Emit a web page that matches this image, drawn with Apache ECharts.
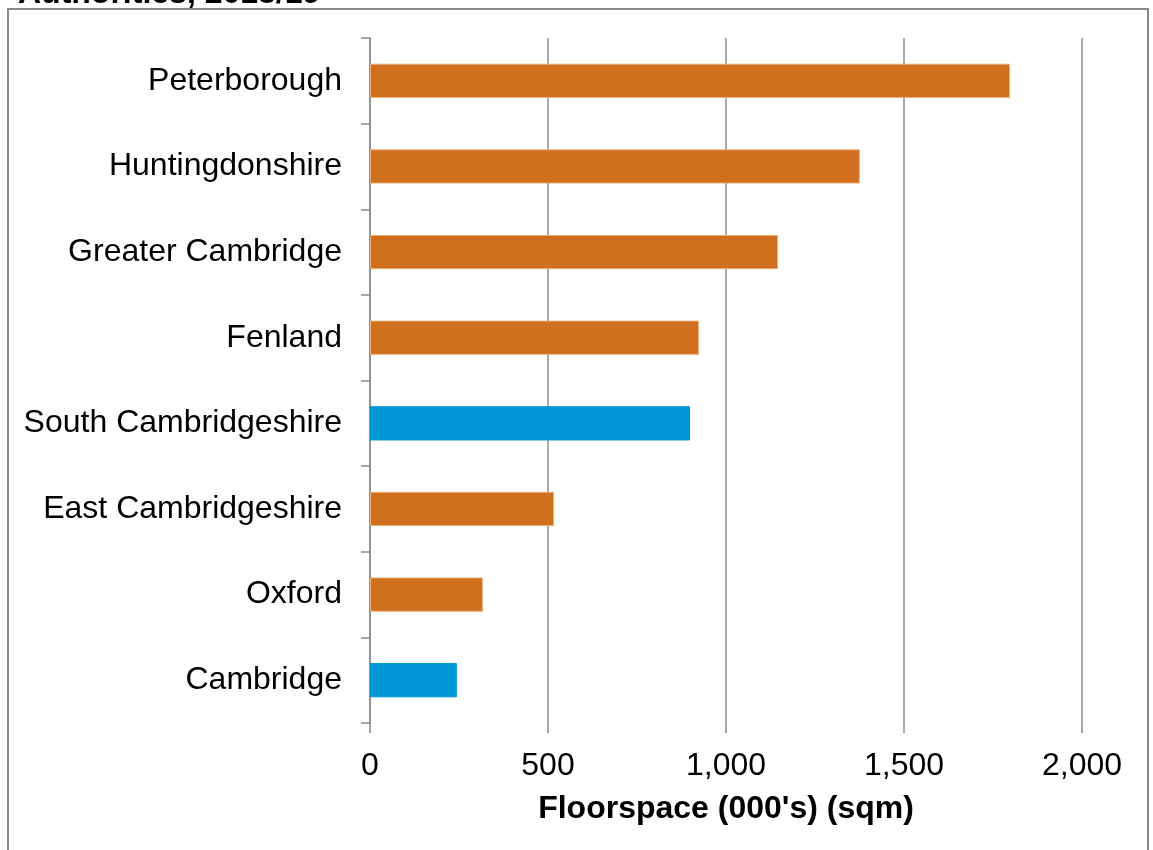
<!DOCTYPE html>
<html>
<head>
<meta charset="utf-8">
<script src="https://cdn.jsdelivr.net/npm/echarts@6/dist/echarts.min.js"></script>
<style>
html,body{margin:0;padding:0;background:#fff;}
#chart{width:1153px;height:850px;}
</style>
</head>
<body>
<div id="chart"></div>
<script>
const categories = ["Cambridge","Oxford","East Cambridgeshire","South Cambridgeshire","Fenland","Greater Cambridge","Huntingdonshire","Peterborough"];
const values = [244, 317, 517, 899, 924, 1146, 1376, 1798];
const highlighted = ["Cambridge","South Cambridgeshire"];
const xTicks = [0, 500, 1000, 1500, 2000];

const ORANGE = '#D0701F';
const BLUE = '#0096D6';
const GRID = '#8c8c8c';
const FONT = 'Liberation Sans, Arial, sans-serif';

const chart = echarts.init(document.getElementById('chart'));
chart.setOption({
  animation: false,
  backgroundColor: '#fff',
  title: {
    text: 'Authorities, 2018/19',
    left: 13, top: -27,
    textStyle: {fontFamily: FONT, fontSize: 32, fontWeight: 'bold', color: '#000'}
  },
  graphic: [{
    type: 'rect', silent: true, z: 100,
    shape: {x: 8, y: 9, width: 1140, height: 870},
    style: {fill: 'none', stroke: '#8a8a8a', lineWidth: 2}
  }],
  grid: {left: 370, right: 71, top: 38, bottom: 127, containLabel: false},
  xAxis: {
    type: 'value', min: xTicks[0], max: xTicks[xTicks.length-1], interval: 500,
    name: "Floorspace (000's) (sqm)", nameLocation: 'middle', nameGap: 70,
    nameTextStyle: {fontFamily: FONT, fontSize: 32, fontWeight: 'bold', color: '#000'},
    axisLine: {show: false},
    axisTick: {show: true, length: 10, lineStyle: {color: GRID, width: 1.5}},
    splitLine: {show: true, lineStyle: {color: GRID, width: 1.5}},
    axisLabel: {
      fontFamily: FONT, fontSize: 32, color: '#000', margin: 27,
      formatter: v => v.toLocaleString('en-US')
    }
  },
  yAxis: {
    type: 'category', data: categories,
    axisLine: {show: true, lineStyle: {color: GRID, width: 1.5}},
    axisTick: {show: true, length: 9, lineStyle: {color: GRID, width: 1.5}},
    axisLabel: {fontFamily: FONT, fontSize: 32, color: '#000', margin: 28}
  },
  series: [{
    type: 'bar',
    barCategoryGap: '60%',
    data: categories.map((c, i) => ({
      value: values[i],
      itemStyle: {
        color: highlighted.includes(c) ? BLUE : ORANGE,
        borderColor: highlighted.includes(c) ? BLUE : '#e9b07c',
        borderWidth: 1
      }
    })),
    z: 1
  }]
});
</script>
</body>
</html>
